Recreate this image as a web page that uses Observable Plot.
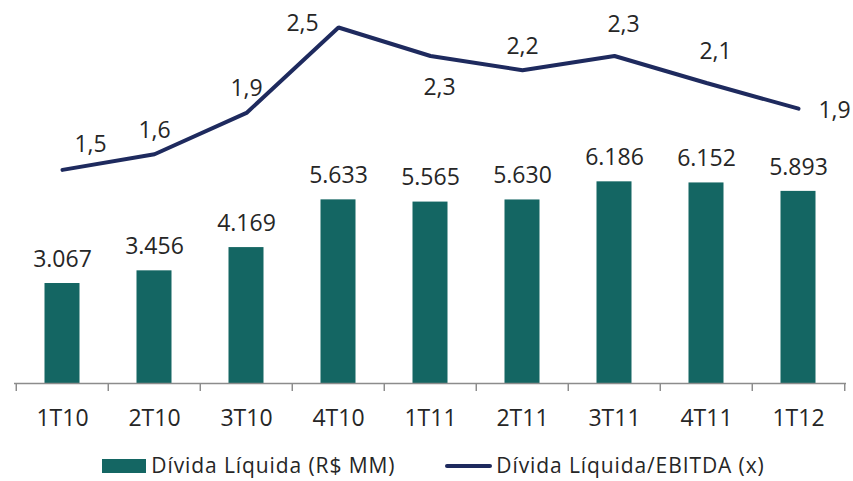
<!DOCTYPE html>
<html><head><meta charset="utf-8">
<script src="https://cdn.jsdelivr.net/npm/d3@7"></script>
<script src="https://cdn.jsdelivr.net/npm/@observablehq/plot@0.6"></script>
<style>
body{margin:0;background:#fff;font-family:"Open Sans",sans-serif;color:#262626;}
#chart svg{display:block;}
#legend{display:flex;justify-content:center;align-items:center;margin-top:11px;padding-left:14px;font-size:21px;letter-spacing:0.9px;line-height:29px;white-space:nowrap;}
.item{display:flex;align-items:center;}
.item + .item{margin-left:50px;}
.sw-bar{width:44px;height:14px;background:#146663;margin-right:5px;flex:none;}
.sw-line{width:47px;height:4px;background:#1e2a5e;border-radius:2px;margin-right:4px;flex:none;}
</style></head><body><div id="chart"></div>
<div id="legend">
  <div class="item"><span class="sw-bar"></span><span class="lbl">Dívida Líquida (R$ MM)</span></div>
  <div class="item"><span class="sw-line"></span><span class="lbl">Dívida Líquida/EBITDA (x)</span></div>
</div>
<script>
const periods = ["1T10","2T10","3T10","4T10","1T11","2T11","3T11","4T11","1T12"];
const netDebt = [3067, 3456, 4169, 5633, 5565, 5630, 6186, 6152, 5893];
const leverage = [1.50, 1.61, 1.90, 2.50, 2.30, 2.20, 2.30, 2.11, 1.93];
const leverageLabelPlacement = ["aboveRight","above","above","left","below","above","aboveHigh","aboveHigh","right"];

const loc = d3.formatLocale({decimal: ",", thousands: ".", grouping: [3], currency: ["R$", ""]});
const fmtDebt = loc.format(",d");
const fmtLev = loc.format(".1f");

const data = periods.map((p, i) => ({period: p, debt: netDebt[i], lev: leverage[i], place: leverageLabelPlacement[i]}));

const W = 853, H = 440, mL = 14, mR = 7, mT = 27, mB = 57;
const yMax = 10920;              // left (bar) axis maximum
const levMax = 2.5;               // right (ratio) axis maximum
const factor = yMax / levMax;
const step = (W - mL - mR) / periods.length;
const plotH = H - mT - mB;
const tickLen = 8 * yMax / plotH;
const FS = 23;

const offsets = {
  above: [0, -24], aboveHigh: [9, -31], aboveRight: [28, -25], below: [9, 32], left: [-36, -4], right: [36, 2]
};

const textMarks = Object.entries(offsets).map(([k, [dx, dy]]) =>
  Plot.text(data.filter(d => d.place === k), {
    x: "period", y: d => d.lev * factor, text: d => fmtLev(d.lev), dx, dy,
    fill: "#262626", fontSize: FS
  }));

const chart = Plot.plot({
  width: W, height: H,
  marginLeft: mL, marginRight: mR, marginTop: mT, marginBottom: mB,
  style: {fontFamily: "Open Sans", background: "#fff", overflow: "visible"},
  x: {domain: periods, padding: 0, axis: null},
  y: {domain: [0, yMax], axis: null},
  marks: [
    Plot.barY(data, {x: "period", y: "debt", fill: "#146663", insetLeft: 28.5, insetRight: 28.5}),
    Plot.ruleY([0], {stroke: "#8c8c8c", strokeWidth: 1.5}),
    Plot.ruleX(periods, {x: d => d, y1: 0, y2: -tickLen, dx: -step / 2, stroke: "#8c8c8c", strokeWidth: 1.5}),
    Plot.ruleX(periods.slice(-1), {x: d => d, y1: 0, y2: -tickLen, dx: step / 2, stroke: "#8c8c8c", strokeWidth: 1.5}),
    Plot.text(data, {x: "period", y: "debt", text: d => fmtDebt(d.debt), dy: -24, fill: "#262626", fontSize: FS}),
    Plot.text(periods, {x: d => d, y: () => 0, text: d => d, dy: 35, fill: "#262626", fontSize: FS}),
    Plot.line(data, {x: "period", y: d => d.lev * factor, stroke: "#1e2a5e", strokeWidth: 4, strokeLinejoin: "miter"}),
    ...textMarks
  ]
});
document.getElementById("chart").append(chart);
</script></body></html>
